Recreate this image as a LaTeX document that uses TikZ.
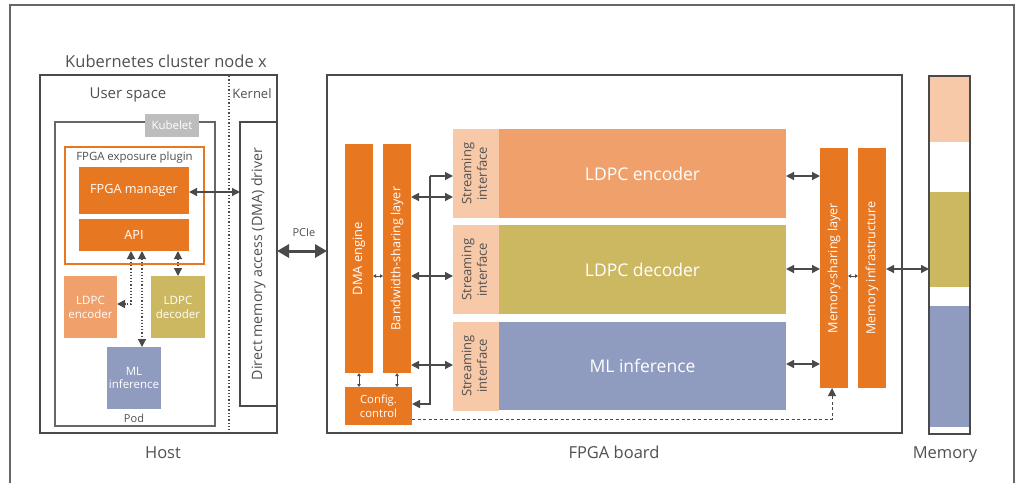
\documentclass[tikz,border=0pt]{standalone}
\usepackage{fontspec}
\setmainfont{Open Sans}
\usetikzlibrary{arrows.meta,calc}
\definecolor{org}{HTML}{E87722}
\definecolor{salmon}{HTML}{F0A06B}
\definecolor{peach}{HTML}{F8C9A9}
\definecolor{olive}{HTML}{CDB862}
\definecolor{slate}{HTML}{8F9BBF}
\definecolor{kgray}{HTML}{BDBDBD}
\definecolor{dline}{HTML}{4A4A4A}
\definecolor{tgray}{HTML}{505050}
\newcommand{\fs}[1]{\fontsize{#1pt}{\dimexpr #1pt*12/10\relax}\selectfont}
\newcommand{\rot}[1]{\rotatebox{90}{#1}}
\begin{document}
\begin{tikzpicture}[x=1pt,y=-1pt,
  box/.style={inner sep=0pt, outer sep=0pt, align=center},
  frame/.style={box, draw=dline, line width=2.5pt},
  obox/.style={box, fill=org, text=white},
  lbl/.style={inner sep=0pt, text=tgray},
  arr/.style={draw=dline, line width=1.4pt, {Triangle[length=8pt,width=8pt]}-{Triangle[length=8pt,width=8pt]}},
  sarr/.style={draw=dline, line width=1.4pt, -{Triangle[length=8pt,width=8pt]}},
  tiny/.style={draw=dline, line width=0.9pt, {Triangle[length=3pt,width=3.5pt]}-{Triangle[length=3pt,width=3.5pt]}},
  dotarr/.style={draw=dline, line width=1.2pt, dotted, {Triangle[length=8pt,width=8pt]}-{Triangle[length=8pt,width=8pt]}}
]
\useasboundingbox (0,0) rectangle (1019,483);
% outer frame
\draw[draw=gray!80!black, line width=1.2pt] (10,483) -- (10,5) -- (1014,5) -- (1014,483);

% ---------- Host ----------
\node[lbl, font=\fs{16.5}, anchor=base] (kcn) at (166,67) {Kubernetes cluster node x};
\node[frame, minimum width=237pt, minimum height=358pt] (host) at (158.5,254) {};
\draw[dline, line width=1.3pt, dotted] (229,76) -- (229,432);
\node[lbl, font=\fs{15}, anchor=base] (us) at (128,98) {User space};
\node[lbl, font=\fs{13}, anchor=base] (kern) at (252,98) {Kernel};
\node[box, draw=gray!80!black, line width=1.3pt, minimum width=160pt, minimum height=304pt] (pod) at (135,274) {};
\node[box, fill=kgray, text=white, font=\fs{11.4}, minimum width=54pt, minimum height=23pt] (kubelet) at (172,125.5) {Kubelet};
\node[box, draw=org, line width=1.5pt, fill=white, minimum width=139pt, minimum height=117pt] (plugin) at (134.5,205.5) {};
\node[lbl, font=\fs{11.4}] (plugl) at (134.5,158) {FPGA exposure plugin};
\node[obox, font=\fs{12.7}, minimum width=110pt, minimum height=47pt] (mgr) at (134,190.5) {FPGA manager};
\node[obox, font=\fs{12.7}, minimum width=110pt, minimum height=32pt] (api) at (134,235) {API};
\node[box, fill=salmon, text=white, font=\fs{11.5}, minimum width=53pt, minimum height=62pt] (encs) at (90.5,307) {LDPC\\encoder};
\node[box, fill=olive, text=white, font=\fs{11.5}, minimum width=54pt, minimum height=62pt] (decs) at (178,307) {LDPC\\decoder};
\node[box, fill=slate, text=white, font=\fs{11.5}, minimum width=54pt, minimum height=62pt] (mls) at (134,378) {ML\\inference};
\node[lbl, font=\fs{11}] (podl) at (134,418) {Pod};
\node[box, draw=dline, line width=2pt, fill=white, font=\fs{14.2}, text=tgray, minimum width=37pt, minimum height=284pt] (drv) at (258.5,264) {\rot{Direct memory access (DMA) driver}};
\node[lbl, font=\fs{16.5}, anchor=base] (hostl) at (163,458) {Host};

% pod arrows
\coordinate (a1) at (131,304);
\draw[dotarr] (api.south -| a1) -- (a1) -- (a1 -| encs.east);
\draw[dotarr] (api.south -| 142,0) -- (mls.north -| 142,0);
\draw[dotarr] (api.south -| 178,0) -- (decs.north -| 178,0);
\draw[arr, line width=1.2pt] (mgr.east |- 0,192) -- (drv.west |- 0,192);

% PCIe
\node[lbl, font=\fs{11}] (pcie) at (304,233) {PCIe};

% ---------- FPGA board ----------
\node[frame, minimum width=575pt, minimum height=358pt] (board) at (614.5,254) {};
\draw[draw=dline, line width=3pt, {Triangle[length=12pt,width=13pt]}-{Triangle[length=12pt,width=13pt]}] (drv.east |- 0,251) -- (board.west |- 0,251);
\node[obox, font=\fs{12.9}, minimum width=28pt, minimum height=229pt] (dmae) at (359,258.5) {\rot{DMA engine}};
\node[obox, font=\fs{12.6}, minimum width=28pt, minimum height=229pt] (bw) at (397,258.5) {\rot{Bandwidth-sharing layer}};
\node[obox, font=\fs{11.3}, minimum width=67pt, minimum height=38pt] (cfg) at (378.5,406) {Config.\\control};
\foreach \n/\y in {si1/173.5,si2/269.5,si3/366}
  \node[box, fill=peach, text=tgray, font=\fs{13}, minimum width=46pt, minimum height=89pt] (\n) at (476,\y) {\rot{\begin{tabular}{@{}c@{}}Streaming\\interface\end{tabular}}};
\node[box, fill=salmon, text=white, font=\fs{17.5}, minimum width=287pt, minimum height=89pt] (enc) at (642.5,173.5) {LDPC encoder};
\node[box, fill=olive, text=white, font=\fs{17.5}, minimum width=287pt, minimum height=89pt] (dec) at (642.5,269.5) {LDPC decoder};
\node[box, fill=slate, text=white, font=\fs{17.5}, minimum width=287pt, minimum height=88pt] (ml) at (642.5,366) {ML inference};
\node[obox, font=\fs{12.7}, minimum width=28pt, minimum height=240pt] (msl) at (834,268) {\rot{Memory-sharing layer}};
\node[obox, font=\fs{12.6}, minimum width=28pt, minimum height=240pt] (minf) at (872,268) {\rot{Memory infrastructure}};
\node[lbl, font=\fs{16.5}, anchor=base] (boardl) at (614,458) {FPGA board};

% board arrows
\draw[tiny] (dmae.east |- 0,276) -- (bw.west |- 0,276);
\draw[tiny] (dmae.south) -- (cfg.north -| dmae.south);
\draw[tiny] (bw.south) -- (cfg.north -| bw.south);
\foreach \n/\y in {si1/197,si2/276,si3/365}
  \draw[arr] (bw.east |- 0,\y) -- (\n.west |- 0,\y);
\coordinate (bt) at (430,176);
\coordinate (bb) at (430,404);
\draw[sarr] (bt) -- (bt -| si1.west);
\draw[sarr] (bt) -- (bb) -- (bb -| cfg.east);
\foreach \n/\y in {enc/176,dec/269,ml/364}
  \draw[arr] (\n.east |- 0,\y) -- (msl.west |- 0,\y);
\draw[tiny] (msl.east |- 0,276) -- (minf.west |- 0,276);
\coordinate (dc) at (832,419);
\draw[draw=dline, line width=1pt, dash pattern=on 3pt off 2.5pt, -{Triangle[length=8pt,width=8pt]}] (cfg.east |- dc) -- (dc) -- (dc |- msl.south);

% ---------- Memory ----------
\fill[peach] (929,76) rectangle (970,142);
\fill[olive] (929,192) rectangle (970,287);
\fill[slate] (929,306) rectangle (970,427);
\node[frame, minimum width=41pt, minimum height=358pt] (mem) at (949.5,255) {};
\draw[arr] (minf.east |- 0,269) -- (mem.west |- 0,269);
\node[lbl, font=\fs{16.5}, anchor=base] (meml) at (945,458) {Memory};
\end{tikzpicture}
\end{document}
